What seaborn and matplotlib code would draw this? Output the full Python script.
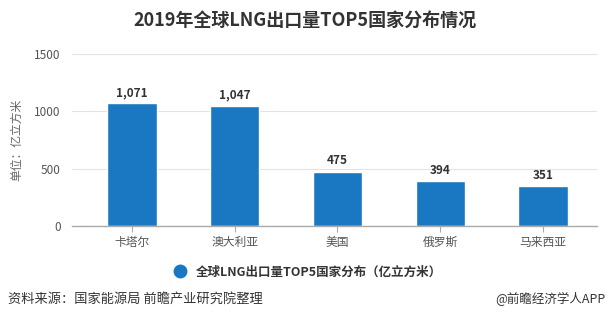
import matplotlib
matplotlib.use("Agg")
import matplotlib.pyplot as plt
import seaborn as sns
import pandas as pd
from matplotlib.lines import Line2D

countries = ["卡塔尔", "澳大利亚", "美国", "俄罗斯", "马来西亚"]
volumes = [1071, 1047, 475, 394, 351]
y_ticks = [0, 500, 1000, 1500]

title = "2019年全球LNG出口量TOP5国家分布情况"
series_name = "全球LNG出口量TOP5国家分布（亿立方米）"
y_label = "单位：亿立方米"
source = "资料来源：国家能源局 前瞻产业研究院整理"
credit = "@前瞻经济学人APP"

sns.set_theme(style="white")
plt.rcParams['font.family'] = ['Noto Sans CJK SC', 'DejaVu Sans']

bar_color = "#1a78c2"
df = pd.DataFrame({"country": countries, "volume": volumes})

fig = plt.figure(figsize=(6.10, 3.25), dpi=100)
ax = fig.add_axes([72/610, 1-226/325, (597-72)/610, (226-54)/325])

sns.barplot(data=df, x="country", y="volume", color=bar_color, width=0.48,
            saturation=1, ax=ax)

ax.set_ylim(0, 1500)
ax.set_xlim(-0.584, 4.526)
ax.set_yticks(y_ticks)
ax.set_yticklabels([str(v) for v in y_ticks], fontsize=8.5, color="#555555")
ax.yaxis.grid(True, color="#e3e3e3", linewidth=0.8)
ax.set_axisbelow(True)
for s in ["top", "right", "left"]:
    ax.spines[s].set_visible(False)
ax.spines["bottom"].set_color("#aaaaaa")
ax.spines["bottom"].set_linewidth(1.0)
ax.tick_params(axis="y", length=0, pad=8)
ax.tick_params(axis="x", length=4, color="#aaaaaa", width=0.8, direction="out",
               labelsize=8.5, labelcolor="#555555", pad=3)
ax.xaxis.set_ticks_position("bottom")
ax.set_xlabel("")
ax.set_ylabel(y_label, fontsize=8.5, color="#666666", labelpad=8)

for c in ax.containers:
    ax.bar_label(c, labels=[f"{v:,}" for v in volumes], padding=3,
                 fontsize=8.5, fontweight="bold", color="#333333")

fig.text(0.5, 1-20/325, title, ha="center", va="center", fontsize=13,
         fontweight="bold", color="#333333")

handle = Line2D([], [], marker="o", linestyle="", color=bar_color, markersize=9)
fig.legend([handle], [series_name], loc="center", bbox_to_anchor=(0.5, 1-272/325),
           frameon=False, prop={"size": 9, "weight": "bold"}, handletextpad=0.3,
           labelcolor="#333333")

fig.text(8/610, 1-299/325, source, ha="left", va="center", fontsize=9.5, color="#333333")
fig.text(605/610, 1-299/325, credit, ha="right", va="center", fontsize=9, color="#333333")

fig.savefig("out.png", dpi=100, facecolor="white")
